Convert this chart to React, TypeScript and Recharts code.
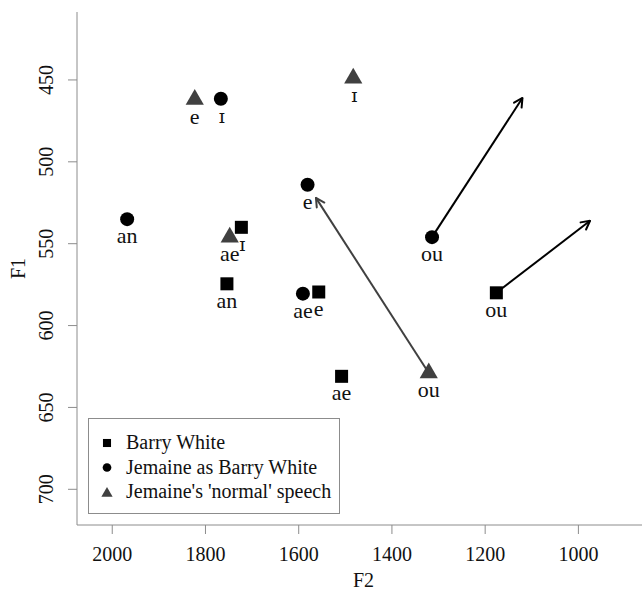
import React from 'react';
import { ScatterChart, Scatter, XAxis, YAxis, ReferenceLine, Legend } from 'recharts';

const FONT = "'Liberation Serif', 'Times New Roman', serif";
const IPA_FONT = "'DejaVu Serif', 'Liberation Serif', serif";
const FRAME = '#8c8c8c';
const INK = '#111111';

// vowel formants (Hz)
const barryWhite = [
  { f2: 1723, f1: 540, vowel: 'ɪ' },
  { f2: 1754, f1: 574.5, vowel: 'an' },
  { f2: 1557, f1: 579.5, vowel: 'e' },
  { f2: 1508, f1: 631, vowel: 'ae' },
  { f2: 1176, f1: 580, vowel: 'ou' },
];

const jemaineAsBarry = [
  { f2: 1767, f1: 461.5, vowel: 'ɪ' },
  { f2: 1581, f1: 514, vowel: 'e' },
  { f2: 1968, f1: 535, vowel: 'an' },
  { f2: 1591, f1: 580.5, vowel: 'ae' },
  { f2: 1314, f1: 546, vowel: 'ou' },
];

const jemaineNormal = [
  { f2: 1483, f1: 449, vowel: 'ɪ' },
  { f2: 1823, f1: 462, vowel: 'e' },
  { f2: 1748, f1: 546, vowel: 'ae' },
  { f2: 1321, f1: 629, vowel: 'ou' },
];

// the 'ou' glides drawn as arrows
const glides = [
  { speaker: 'jemaineAsBarry', from: { f2: 1314, f1: 546 }, to: { f2: 1120, f1: 461 } },
  { speaker: 'barryWhite', from: { f2: 1176, f1: 580 }, to: { f2: 975, f1: 536 } },
  { speaker: 'jemaineNormal', from: { f2: 1321, f1: 629 }, to: { f2: 1563, f1: 522 } },
];

const f2Ticks = [2000, 1800, 1600, 1400, 1200, 1000];
const f1Ticks = [450, 500, 550, 600, 650, 700];

const series = [
  { key: 'barryWhite', name: 'Barry White', data: barryWhite, shape: 'square', color: '#000000' },
  { key: 'jemaineAsBarry', name: 'Jemaine as Barry White', data: jemaineAsBarry, shape: 'circle', color: '#000000' },
  { key: 'jemaineNormal', name: "Jemaine's 'normal' speech", data: jemaineNormal, shape: 'triangle', color: '#404040' },
];

function marker(shape: string, cx: number, cy: number, color: string, s = 1) {
  if (shape === 'square') {
    const h = 6.5 * s;
    return <rect x={cx - h} y={cy - h} width={2 * h} height={2 * h} fill={color} />;
  }
  if (shape === 'circle') {
    return <circle cx={cx} cy={cy} r={7 * s} fill={color} />;
  }
  const r = 10.5 * s;
  const pts = `${cx},${cy - r} ${cx + 0.866 * r},${cy + r / 2} ${cx - 0.866 * r},${cy + r / 2}`;
  return <polygon points={pts} fill={color} />;
}

const pointShape = (shape: string, color: string) => (props: any) => {
  const { cx, cy, payload } = props;
  const ipa = payload.vowel === 'ɪ';
  return (
    <g>
      {marker(shape, cx, cy, color)}
      <text x={ipa ? cx + 1 : cx} y={cy + 24} textAnchor="middle" fontFamily={ipa ? IPA_FONT : FONT}
        fontSize={ipa ? 19 : 22} fill={INK}>
        {payload.vowel}
      </text>
    </g>
  );
};

const F1Tick = (props: any) => {
  const { x, y, payload } = props;
  return (
    <text x={x} y={y} transform={`rotate(-90, ${x}, ${y})`} textAnchor="middle"
      fontFamily={FONT} fontSize={20} fill={INK}>
      {payload.value}
    </text>
  );
};

const F1Label = (props: any) => {
  const { viewBox } = props;
  const cx = 25;
  const cy = viewBox.y + viewBox.height / 2;
  return (
    <text x={cx} y={cy} transform={`rotate(-90, ${cx}, ${cy})`} textAnchor="middle"
      fontFamily={FONT} fontSize={20} fill={INK}>
      F1
    </text>
  );
};

const LegendBox = () => (
  <svg width={252} height={96} style={{ display: 'block' }}>
    <rect x={0.5} y={0.5} width={251} height={95} fill="#fff" stroke={FRAME} />
    {series.map((s, i) => (
      <g key={s.key}>
        {marker(s.shape, 19, 25 + i * 24.5 + (s.shape === 'triangle' ? 1.5 : 0), s.color, 0.62)}
        <text x={38} y={31 + i * 24.5} fontFamily={FONT} fontSize={20} fill={INK}>{s.name}</text>
      </g>
    ))}
  </svg>
);

export default function App() {
  const colorOf = (k: string) => series.find((s) => s.key === k)!.color;
  return (
    <div style={{ position: 'fixed', left: 0, top: 0, width: 642, height: 590, overflow: 'hidden', background: '#fff' }}>
      <svg width={0} height={0} style={{ position: 'absolute' }}>
        <defs>
          {['#000000', '#404040'].map((c) => (
            <marker key={c} id={`head-${c.slice(1)}`} viewBox="0 0 12 12" refX={11} refY={6}
              markerWidth={12} markerHeight={12} markerUnits="userSpaceOnUse" orient="auto">
              <path d="M2.5,1.5 L11,6 L2.5,10.5" fill="none" stroke={c} strokeWidth={2} strokeLinecap="round" strokeLinejoin="round" />
            </marker>
          ))}
        </defs>
      </svg>
      <ScatterChart width={650} height={590} margin={{ top: 12, right: 0, bottom: 0, left: 0 }}>
        <XAxis
          xAxisId="frameTop" orientation="top" type="number" dataKey="f2"
          domain={[846.4, 2075.6]} reversed allowDataOverflow height={0}
          tick={false} tickLine={false} axisLine={{ stroke: FRAME }}
        />
        <XAxis
          type="number" dataKey="f2" domain={[846.4, 2075.6]} reversed allowDataOverflow
          ticks={f2Ticks} height={65} tickSize={9} tickMargin={13}
          axisLine={{ stroke: FRAME }} tickLine={{ stroke: FRAME }}
          tick={{ fill: INK, fontSize: 20, fontFamily: FONT }}
          label={{ value: 'F2', position: 'insideBottom', offset: 3, fill: INK, fontSize: 20, fontFamily: FONT }}
        />
        <YAxis
          type="number" dataKey="f1" domain={[408.5, 721.8]} reversed allowDataOverflow
          ticks={f1Ticks} width={77} tickSize={9} tickMargin={15}
          axisLine={{ stroke: FRAME }} tickLine={{ stroke: FRAME }}
          tick={<F1Tick />} label={<F1Label />}
        />
        {glides.map((g) => {
          const c = colorOf(g.speaker);
          return (
            <ReferenceLine
              key={g.speaker}
              segment={[{ x: g.from.f2, y: g.from.f1 }, { x: g.to.f2, y: g.to.f1 }]}
              stroke={c} strokeWidth={2} markerEnd={`url(#head-${c.slice(1)})`}
            />
          );
        })}
        {series.map((s) => (
          <Scatter key={s.key} name={s.name} data={s.data} shape={pointShape(s.shape, s.color)} isAnimationActive={false} />
        ))}
        <Legend
          layout="vertical" align="center" verticalAlign="middle"
          wrapperStyle={{ left: 88, top: 418, width: 252, height: 96 }}
          content={() => <LegendBox />}
        />
      </ScatterChart>
    </div>
  );
}
